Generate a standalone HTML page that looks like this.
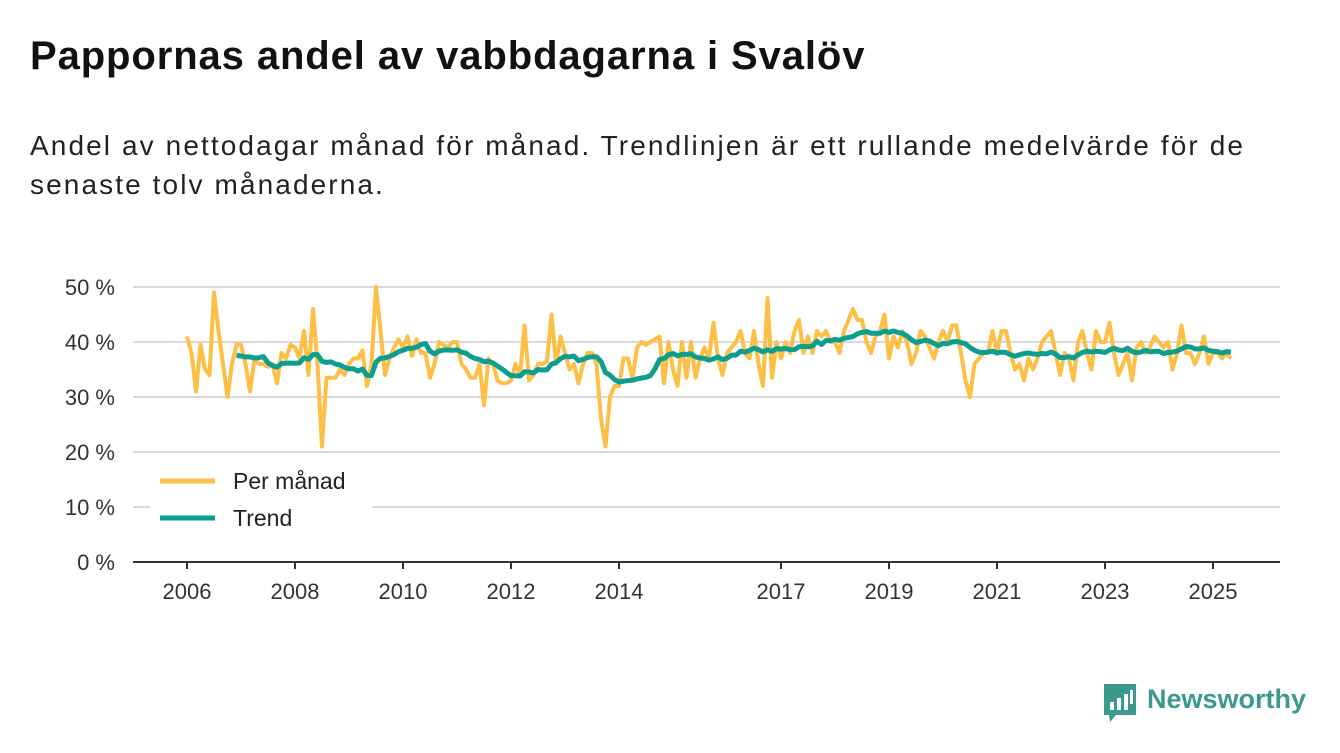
<!DOCTYPE html>
<html><head><meta charset="utf-8">
<style>
body{margin:0;background:#fff;width:1340px;height:753px;overflow:hidden;font-family:"Liberation Sans","DejaVu Sans",sans-serif;color:#111;}
h1{position:absolute;left:30px;top:34px;margin:0;font-size:40px;font-weight:bold;letter-spacing:0.9px;}
.sub{position:absolute;left:30px;top:126px;margin:0;font-size:28px;line-height:39px;width:1310px;color:#222;letter-spacing:2.1px;white-space:nowrap;}
svg{position:absolute;left:0;top:0;}
</style></head><body>
<h1>Pappornas andel av vabbdagarna i Svalöv</h1>
<p class="sub">Andel av nettodagar månad för månad. Trendlinjen är ett rullande medelvärde för de<br>senaste tolv månaderna.</p>
<svg width="1340" height="753" id="chart"></svg>
<script>
const startYear = 2006;
const monthly = [
41,38,31,39.5,35,34,49,42,36,30,36,39.5,
39.5,36,31,37,36,36,35.5,36,32.5,38,37,39.5,
39,37,42,34,46,36,21,33.5,33.5,33.5,35,34,
36,37,37,38.5,32,36,50,42,34,37,39,40.5,
39,41,37.5,40.5,38,38,33.5,36,40,39.5,39,40,
40,36,35,33.5,33.5,36,28.5,37,36,33,32.5,32.5,
33,36,34,43,33,34,36,36,36.5,45,36,41,
38,35,36,32.5,36,38,38,36,26,21,30,32,
32,37,37,33.5,39,40,39.5,40,40.5,41,32.5,40,
35,32,40,33.5,40,33.5,37,39,37,43.5,37,34,
38,39,40,42,38,37,42,36,32,48,33.5,40,
37,40,38,42,44,38,41,38,42,41,42,40,
40,38,42,44,46,44,44,40,38,41,42,45,
37,41,39,42,40,36,38,42,41,39,37,40,
42,40,43,43,38,33,30,36,37,38,38,42,
38,42,42,38,35,36,33,37,35,37,40,41,
42,38,34,38,37,33,40,42,38,35,42,40,
40,43.5,38,34,36,38,33,39,40,38,39,41,
40,39,40,35,38,43,38,38,36,38,41,36,
38,38,37,38,37];
const yTicks = [0,10,20,30,40,50];
const xTickYears = [2006,2008,2010,2012,2014,2017,2019,2021,2023,2025];

const NS='http://www.w3.org/2000/svg';
const svg=document.getElementById('chart');
const X0=187, PX_YEAR=54, Y0=562, PX_PCT=5.5;
const xs=t=>X0+(t-startYear)*PX_YEAR;
const ys=v=>Y0-v*PX_PCT;
function mk(tag,attrs){const e=document.createElementNS(NS,tag);for(const k in attrs)e.setAttribute(k,attrs[k]);svg.appendChild(e);return e;}

yTicks.forEach(v=>{
  if(v>0){const g=mk('line',{x1:133,x2:1280,y1:ys(v),y2:ys(v),stroke:'#d9d9d9','stroke-width':2});
  
  }
  const t=mk('text',{x:115,y:ys(v)+8,'text-anchor':'end','font-size':22,fill:'#333'});
  t.textContent=v+' %';
  
  
});
const ax=mk('line',{x1:133,x2:1280,y1:Y0,y2:Y0,stroke:'#333','stroke-width':2});


xTickYears.forEach(yr=>{
  const x=xs(yr);
  const tk=mk('line',{x1:x,x2:x,y1:Y0,y2:Y0+7,stroke:'#333','stroke-width':2});
  
  
  const t=mk('text',{x:x,y:Y0+37,'text-anchor':'middle','font-size':22,fill:'#333'});
  t.textContent=yr;
  
  
});
const pts=monthly.map((v,i)=>xs(startYear+i/12).toFixed(1)+','+ys(v).toFixed(1));
const ml=mk('polyline',{points:pts.join(' '),fill:'none',stroke:'#fdbf45','stroke-width':4,'stroke-linejoin':'round'});


const tp=[];
for(let i=11;i<monthly.length;i++){let s=0;for(let j=i-11;j<=i;j++)s+=monthly[j];tp.push(xs(startYear+i/12).toFixed(1)+','+ys(s/12).toFixed(1));}
const tl=mk('polyline',{points:tp.join(' '),fill:'none',stroke:'#0c9e8e','stroke-width':5,'stroke-linejoin':'round'});



const lb=mk('rect',{x:150,y:462,width:222,height:76,fill:'#fff'});


[['Per månad','#fdbf45',481],['Trend','#0c9e8e',518]].forEach(([n,c,y])=>{
  const l=mk('line',{x1:160,x2:215,y1:y,y2:y,stroke:c,'stroke-width':5});
  
  
  const t=mk('text',{x:233,y:y+8,'font-size':23,fill:'#222'});
  t.textContent=n;
  
  
});
const lg=mk('path',{d:'M1104 684 h32 v31 h-20 l-6 7 l-1 -7 h-5 z',fill:'#3a9a8e'});


[[1110,702,4,8],[1117,698,4,12],[1124,694,4,16],[1130,690,3,14]].forEach(([x,y,w,h])=>{
  const b=mk('rect',{x:x,y:y,width:w,height:h,fill:'#fff'});
  
  
});
const lt=mk('text',{x:1147,y:708,'font-size':27,'font-weight':'bold',fill:'#3a9a8e'});
lt.textContent='Newsworthy';


</script>
</body></html>
